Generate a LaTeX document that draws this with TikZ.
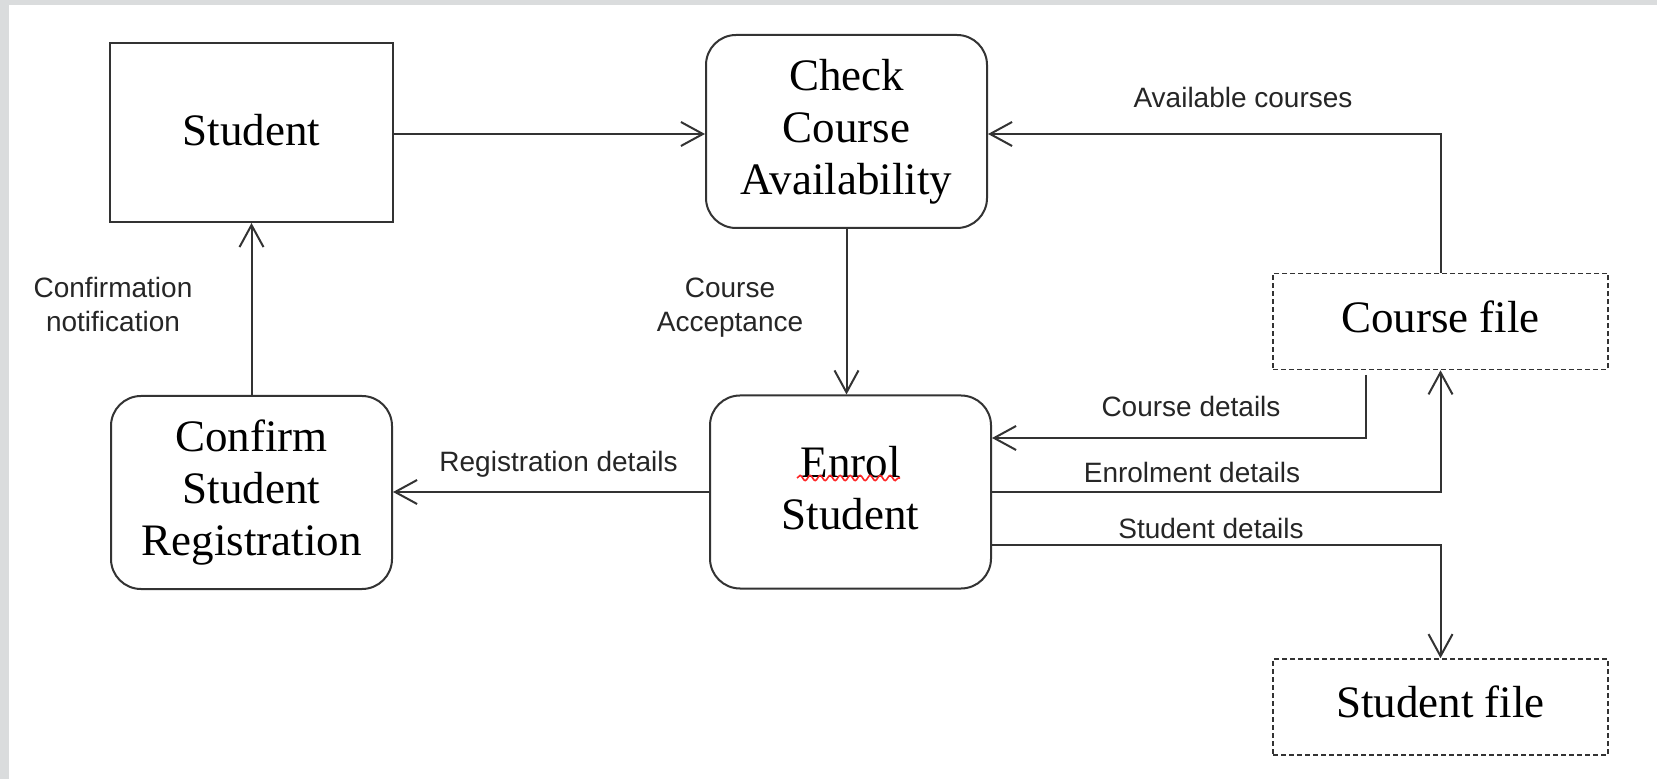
\documentclass[tikz,border=0pt]{standalone}
\usepackage{fontspec}
\setmainfont{Liberation Serif}
\newfontfamily\flowfont{Liberation Sans}
\definecolor{linegray}{RGB}{51,51,51}
\definecolor{framegray}{RGB}{218,220,221}
\tikzstyle{entity}=[rectangle,draw=linegray,line width=1pt,
minimum width=141.5pt,minimum height=89.5pt,align=center,text depth=3pt,
font=\fontsize{22.5}{26}\selectfont]
\tikzstyle{process}=[rectangle,rounded corners=15pt,draw=linegray,line width=1pt,
minimum width=140.5pt,minimum height=96.5pt,align=center,
font=\fontsize{22.5}{26}\selectfont]
\tikzstyle{store}=[rectangle,dash pattern=on 2.5pt off 1.5pt,draw=linegray,line width=0.8pt,
minimum width=167.5pt,minimum height=48pt,text depth=5pt,
font=\fontsize{22.5}{26}\selectfont]
\tikzstyle{flowlabel}=[align=center,inner sep=0pt,text=black!85,
font=\flowfont\fontsize{14}{17}\selectfont]
\tikzstyle{flow}=[->,draw=linegray,line width=1pt]
\usetikzlibrary{arrows.meta,decorations.pathmorphing}

\begin{document}
\begin{tikzpicture}[x=0.5pt,y=-0.5pt,>={Straight Barb[length=11pt,width=12pt]}]
            % frame
            \useasboundingbox[fill=framegray] (0,0) rectangle (1657,779);
            \fill[white] (9,5) rectangle (1657,779);

            % boxes
            \node[entity]  (student)     at (251.5,132.5) {Student};
            \node[process] (check)       at (846.5,131.5) {Check\\Course\\Availability};
            \node[process,text depth=4pt] (enrol) at (850.5,492) {Enrol\\Student};
            \node[process] (confirm)     at (251.5,492.5) {Confirm\\Student\\Registration};
            \node[store]   (coursefile)  at (1440.5,321.5) {Course file};
            \node[store]   (studentfile) at (1440.5,707)   {Student file};

            % spell check mark under Enrol
            \draw[red!85,line width=0.8pt,decorate,
                  decoration={snake,amplitude=1.3pt,segment length=5pt}] (797,478) -- (900,478);

            % labels
            \node[flowlabel] (lavail)   at (1243,97)    {Available courses};
            \node[flowlabel] (laccept)  at (730,307.5)  {Course\\Acceptance};
            \node[flowlabel] (lcourse)  at (1191,406)   {Course details};
            \node[flowlabel] (lenrol)   at (1192,472)   {Enrolment details};
            \node[flowlabel] (lstudent) at (1211,528)   {Student details};
            \node[flowlabel] (lreg)     at (558.5,464)  {Registration details};
            \node[flowlabel] (lconfirm) at (113,304.5)  {Confirmation\\notification};

            % flows
            \coordinate (cdstart) at (1366,375);

            \draw[flow] ([yshift=-0.75pt]student.east) -- ([yshift=-0.75pt]student.east -| check.west);
            \draw[flow] (coursefile.north) |- ([yshift=-1.25pt]check.east);
            \draw[flow] (check.south) -- (check.south |- enrol.north);
            \draw[flow] (cdstart) |- ([yshift=27pt]enrol.east);
            \draw[flow] (enrol.east) -| (coursefile.south);
            \draw[flow] ([yshift=-26.5pt]enrol.east) -| (studentfile.north);
            \draw[flow] (enrol.west) -- (enrol.west -| confirm.east);
            \draw[flow] (confirm.north) -- (student.south);

\end{tikzpicture}
\end{document}
